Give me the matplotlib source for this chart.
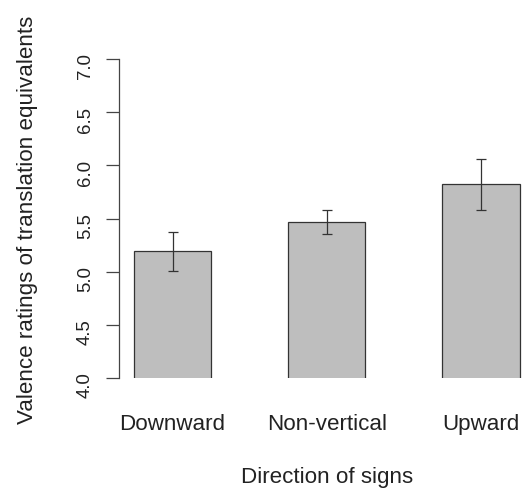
import numpy as np
import matplotlib
matplotlib.use("Agg")
import matplotlib.pyplot as plt
import matplotlib.transforms as mtransforms

directions = ["Downward", "Non-vertical", "Upward"]
means = [5.19, 5.465, 5.82]
errors = [0.18, 0.115, 0.24]
yticks = [4.0, 4.5, 5.0, 5.5, 6.0, 6.5, 7.0]

plt.rcParams['font.family'] = ['Liberation Sans', 'DejaVu Sans']

W, H = 522, 489
fig = plt.figure(figsize=(W / 100, H / 100), dpi=100)

# plot region (in pixels, like R's par("plt")); extends a little past the right edge
left, right = 118.6, 535.0
bottom, top = 110.0, 429.0
ax = fig.add_axes([left / W, bottom / H, (right - left) / W, (top - bottom) / H])

xpos = np.arange(len(directions)) * 2 + 1.5
ax.bar(xpos, means, width=1.0, bottom=0, color='#bebebe', edgecolor='#333333', linewidth=0.9)
ax.errorbar(xpos, means, yerr=errors, fmt='none', ecolor='#333333', elinewidth=0.9,
            capsize=3.6, capthick=0.9)

ax.set_xlim(0.8, 6.2)
ax.set_ylim(4.0, 7.0)

for s in ['top', 'right', 'bottom']:
    ax.spines[s].set_visible(False)
ax.spines['left'].set_bounds(4.0, 7.0)
ax.spines['left'].set_color('#444444')
ax.spines['left'].set_linewidth(0.9)

ax.set_xticks([])
ax.set_yticks(yticks)
ax.set_yticklabels(["%.1f" % t for t in yticks])
ax.tick_params(axis='y', length=9.4, width=0.9, color='#444444', pad=8.5,
               labelsize=13.4, labelrotation=90, labelcolor='#222222')

# category names under the bars
trans = mtransforms.blended_transform_factory(ax.transData, fig.transFigure)
for x, name in zip(xpos, directions):
    ax.text(x, 59 / H, name, transform=trans, ha='center', va='baseline',
            fontsize=16.1, color='#222222', clip_on=False)

# axis titles
fig.text((left + right) / 2 / W, 6 / H, "Direction of signs", ha='center', va='baseline',
         fontsize=16.1, color='#222222')
fig.text(33 / W, 1 - 219.5 / H, "Valence ratings of translation equivalents",
         rotation=90, rotation_mode='anchor', ha='center', va='baseline',
         fontsize=16.1, color='#222222')

fig.savefig('out.png', dpi=100)
